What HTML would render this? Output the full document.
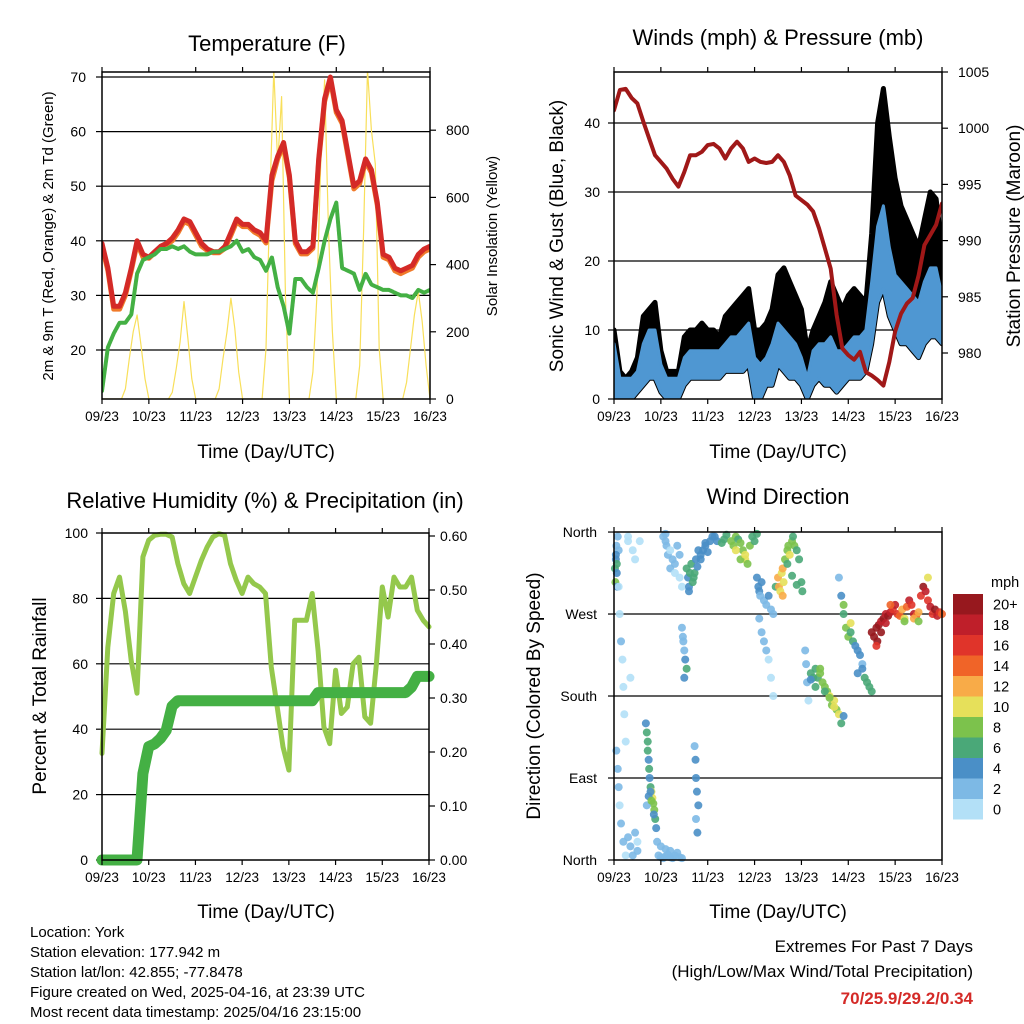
<!DOCTYPE html>
<html><head><meta charset="utf-8"><style>
body{margin:0;background:#fff}
svg{display:block;font-family:"Liberation Sans",sans-serif}
</style></head><body>
<svg id="s" width="1024" height="1024" viewBox="0 0 1024 1024" xmlns="http://www.w3.org/2000/svg">
<defs>
<clipPath id="c1"><rect x="102" y="72" width="328" height="327"/></clipPath>
<clipPath id="c2"><rect x="614" y="72" width="328" height="327"/></clipPath>
<clipPath id="c3"><rect x="96" y="527" width="339" height="339"/></clipPath>
<clipPath id="c4"><rect x="608" y="526" width="340" height="340"/></clipPath>
</defs>
<g font-size="22" text-anchor="middle" fill="#000">
<text x="267" y="51">Temperature (F)</text>
<text x="778" y="45">Winds (mph) &amp; Pressure (mb)</text>
<text x="265" y="508">Relative Humidity (%) &amp; Precipitation (in)</text>
<text x="778" y="504">Wind Direction</text>
</g>
<g font-size="19" text-anchor="middle">
<text x="266" y="458">Time (Day/UTC)</text>
<text x="778" y="458">Time (Day/UTC)</text>
<text x="266" y="918">Time (Day/UTC)</text>
<text x="778" y="918">Time (Day/UTC)</text>
<text transform="translate(563,236) rotate(-90)">Sonic Wind &amp; Gust (Blue, Black)</text>
<text transform="translate(1020,236) rotate(-90)">Station Pressure (Maroon)</text>
<text transform="translate(46,696) rotate(-90)">Percent &amp; Total Rainfall</text>
<text transform="translate(540,696) rotate(-90)">Direction (Colored By Speed)</text>
</g>
<g font-size="15" text-anchor="middle">
<text transform="translate(53,236) rotate(-90)">2m &amp; 9m T (Red, Orange) &amp; 2m Td (Green)</text>
<text transform="translate(497,236) rotate(-90)">Solar Insolation (Yellow)</text>
</g>
<g font-size="15">
<text x="30" y="937">Location: York</text>
<text x="30" y="957">Station elevation: 177.942 m</text>
<text x="30" y="977">Station lat/lon: 42.855; -77.8478</text>
<text x="30" y="997">Figure created on Wed, 2025-04-16, at 23:39 UTC</text>
<text x="30" y="1017">Most recent data timestamp: 2025/04/16 23:15:00</text>
</g>
<g font-size="17" text-anchor="end">
<text x="973" y="952">Extremes For Past 7 Days</text>
<text x="973" y="977">(High/Low/Max Wind/Total Precipitation)</text>
<text x="973" y="1004" font-weight="bold" fill="#d42a27">70/25.9/29.2/0.34</text>
</g>
</svg>
<script>
// ---- data (3-hour samples, t = i*0.125 day from 09/23) ----
var dayLabels=["09/23","10/23","11/23","12/23","13/23","14/23","15/23","16/23"];
var temp2m=[39.5,35,28,28,30.5,35,40,37.5,37,38,39,39.5,40.5,42,44,43.5,41.5,39.5,38.5,38,38,39,41.5,44,43,43,42,41.5,40,52,55.5,58,52,40,38,38,39,55,66,70,64,62,56,50,51,55,53,47,37.5,37,35,34.5,35,35.5,37.5,38.5,39];
var temp9m=[39,34.5,27.5,27.5,30,34.5,39.5,37,36.8,37.8,38.8,39.2,40,41.5,43.5,43,41,39,38.2,37.8,37.8,38.6,41,43.5,42.6,42.6,41.6,41,39.6,51,55,57.5,51.5,39.5,37.6,37.6,38.6,54.5,65.5,69.5,63.5,61.5,55.5,49.5,50.5,54.5,52.5,46.5,37,36.5,34.5,34,34.5,35,37,38,38.5];
var dewpt=[12.5,20.5,23,25,25,26.5,34,36.5,37,37.5,38.5,38.5,39,38.5,39,38,37.5,37.5,37.5,38,38,38.5,39,40,38,38.5,37,36.5,34.5,37,31.5,28,23,33,33,31.5,30.5,35,40,44,47,35,34.5,34,31,34,32,31.5,31,31,30.5,30,30,29.5,31,30.5,31];
// solar: 2-hour samples
var solar=[0,0,0,0,0,0,30,120,200,250,160,60,
0,0,0,0,0,0,20,90,170,290,180,60,
0,0,0,0,0,0,30,120,200,300,210,80,
0,0,0,0,0,0,150,600,980,700,900,300,
0,0,0,0,0,0,80,300,700,950,500,200,
0,0,0,0,0,0,100,500,980,800,700,150,
0,0,0,0,0,0,50,150,250,320,230,100,0];
var pressure=[1001.6,1003.4,1003.5,1002.7,1002.2,1000.6,999.1,997.6,997,996.4,995.5,994.8,996.1,997.6,997.6,997.9,998.5,998.6,998.2,997.3,998.2,998.8,998.2,997,997.3,997,996.9,997,997.6,997,995.8,994,993.6,993.2,992.6,991.1,989.3,987.5,983.4,980.4,979.8,979.4,980.1,978.3,978,977.6,977.1,979.2,981.9,983.5,984.4,984.9,986.9,989.6,990.5,991.4,993.3];
var windLo=[0,0,0,0,1,2,3,3,1,0,0,0,2,3,3,3,3,3,3,4,4,4,4,5,0,0,2,2,5,4,3,3,2,0,2,3,2,2,1,2,3,3,3,4,8,14,16,12,10,8,8,7,6,8,9,9,8];
var windHi=[8,3,3,3,4,8,10,10,5,3,3,3,6,7,7,7,7,7,7,8,9,9,10,11,6,5,6,8,11,10,9,8,6,3,7,8,8,9,7,7,8,9,9,10,17,25,28,22,18,17,16,15,14,17,19,19,15];
var gustHi=[10,4,3,4,6,12,13,14,7,4,4,4,9,10,10,11,10,10,9,12,13,14,15,16,10,10,11,13,18,19,17,15,13,7,10,12,14,17,15,13,15,16,15,14,24,40,45,38,32,28,26,24,22,26,30,29,22];
var rh=[32.6,65,81.5,86.5,76,61,51,92.7,97.8,99.3,99.6,99.6,98.8,90.6,84.5,81.5,86.5,91.6,95.7,98.8,99.8,99.3,90.6,85.5,81.5,86.5,84.5,83.5,81.5,59,46.8,34.6,27.5,73.3,73.3,73.3,81.5,64,40.7,35.6,58,44.8,46.8,60,62,43.8,41.8,60,83.5,74.3,86.5,83.5,83.5,86.5,76.4,73.3,71.3];
var precip=[0,0,0,0,0,0,0,0.16,0.21,0.215,0.225,0.24,0.285,0.295,0.295,0.295,0.295,0.295,0.295,0.295,0.295,0.295,0.295,0.295,0.295,0.295,0.295,0.295,0.295,0.295,0.295,0.295,0.295,0.295,0.295,0.295,0.295,0.31,0.31,0.31,0.31,0.31,0.31,0.31,0.31,0.31,0.31,0.31,0.31,0.31,0.31,0.31,0.31,0.32,0.34,0.34,0.34];
// wind direction observations: day, degrees, speed(mph)
var dirDay=[].concat(
[0.02,0.03,0.04,0.05,0.06,0.07,0.08,0.1,0.04,0.06],
[0.1,0.12,0.15,0.18,0.2,0.22,0.25,0.05,0.08,0.1,0.12,0.15,0.2,0.25,0.3,0.35],
[0.3,0.35,0.4,0.45,0.5,0.5,0.55,0.4,0.45,0.3],
[0.68,0.7,0.72,0.72,0.74,0.75,0.76,0.78,0.8,0.82,0.84,0.86,0.88,0.9,0.92,0.7,0.74,0.78,0.8,0.85],
[0.95,1.0,1.05,1.1,1.15,1.2,1.25,1.3,1.35,1.4,1.45,1.0,1.1,1.2],
[1.05,1.1,1.12,1.15,1.2,1.25,1.3,1.35,1.4,1.45,1.1,1.2,1.3,1.4],
[1.45,1.47,1.5,1.52,1.55,1.5,1.48],
[1.72,1.74,1.75,1.77,1.8,1.75,1.78],
[1.55,1.58,1.6,1.62,1.65,1.7,1.75,1.8,1.85,1.9,1.95,2.0,2.05,2.1,1.6,1.68,1.72,1.78,1.85,1.95],
[2.15,2.2,2.3,2.35,2.4,2.5,2.55,2.6,2.65,2.7,2.75,2.8,2.85,2.9,2.95,3.0,3.05,2.6,2.7,2.8],
[3.05,3.08,3.1,3.12,3.15,3.2,3.25,3.3,3.35,3.4,3.45,3.1,3.15,3.2,3.25,3.3,3.35,3.4],
[3.5,3.52,3.55,3.58,3.6,3.62,3.65,3.7,3.72,3.75,3.8,3.82,3.85,3.9,3.95,4.0,4.02,3.6,3.7,3.8,3.9],
[4.08,4.1,4.12,4.15,4.2,4.25,4.3,4.35,4.4,4.45,4.5,4.55,4.6,4.65,4.7,4.75,4.8,4.85,4.9,4.3,4.5,4.6,4.7,4.2,4.4],
[4.8,4.85,4.9,4.95,5.0,5.05,5.1,5.15,5.2,5.25,5.3,5.35,5.4,5.45,5.5,4.9,5.05,5.2,5.3],
[5.5,5.55,5.6,5.62,5.65,5.7,5.75,5.8,5.85,5.9,5.95,6.0,6.05,6.1,6.15,6.2,6.25,6.3,6.35,6.4,6.45,6.5,6.55,6.6,6.65,6.7,6.75,6.8,6.85,6.9,6.95,7.0,5.6,5.7,5.8,5.9,6.2,6.4,6.5,6.7]);
var dirDeg=[].concat(
[320,305,330,345,315,300,355,340,335,325],
[300,270,240,220,190,160,130,120,100,80,60,40,20,5,350,200],
[25,15,5,30,10,20,350,340,330,355],
[150,140,130,120,110,100,90,80,75,68,62,55,45,35,20,60,70,75,65,50],
[5,3,2,4,6,3,2,5,8,3,2,15,12,10],
[355,350,345,335,340,330,325,345,310,300,358,320,315,335],
[255,245,230,220,210,200,240],
[125,110,90,75,60,45,30],
[320,310,300,315,325,310,330,340,335,340,345,338,350,355,295,305,315,322,330,348],
[355,350,348,352,357,350,345,355,352,348,340,330,325,345,355,350,358,340,330,335],
[310,300,295,290,305,285,280,290,275,270,300,265,250,240,230,220,200,180],
[310,300,295,315,320,305,330,340,345,335,350,355,345,340,330,305,295,290,325,312,302],
[230,215,195,175,205,200,210,200,205,195,190,185,180,170,175,165,160,150,158,190,185,178,168,198,210],
[310,290,270,255,245,250,240,235,230,225,215,200,195,190,185,280,260,205,210],
[250,245,255,240,258,262,265,270,268,272,275,280,270,268,275,265,278,285,280,270,268,272,290,300,295,285,278,270,275,268,272,270,235,250,260,280,262,265,262,310]);
var dirSpd=[].concat(
[6,8,4,3,5,4,2,2,4,6],
[1,1,2,1,1,1,1,3,2,2,1,2,2,1,1,1],
[2,2,3,3,2,1,1,1,1,1],
[5,6,6,6,5,6,5,7,10,10,9,8,6,4,3,3,4,4,8,5],
[2,2,2,2,3,2,2,2,2,3,3,2,2,2],
[2,2,2,2,1,2,2,2,1,1,2,2,1,2],
[2,2,3,4,6,4,3],
[3,4,4,4,4,3,4],
[6,5,4,6,6,6,5,5,4,4,5,4,4,5,4,6,6,5,5,4],
[4,5,6,7,7,8,8,8,7,8,9,10,9,8,7,7,6,10,9,10],
[4,4,4,3,4,3,3,4,2,2,6,3,3,2,2,1,1,1],
[12,12,10,11,12,10,9,9,8,10,8,7,9,7,6,6,6,12,6,7,6],
[2,3,2,1,6,6,7,6,8,8,8,9,10,9,10,8,10,6,4,6,7,9,11,5,9],
[3,4,6,8,8,6,6,5,4,4,3,6,6,6,6,8,10,4,5],
[20,20,20,20,20,18,20,18,20,18,16,18,16,14,12,10,14,18,16,18,14,12,16,20,18,16,18,16,20,18,16,14,16,20,18,14,8,12,8,10]);
var colorLabels=["0","2","4","6","8","10","12","14","16","18","20+"];
var colorBins=["#b3e0f7","#7db9e5","#4a8fc7","#4aa878","#7cc24c","#e6e05a","#f8ab48","#f06428","#e0342a","#bf1f2a","#97181e"];
var tempTicks=[20,30,40,50,60,70];
var solarTicks=[0,200,400,600,800];
var windTicks=[0,10,20,30,40];
var pressTicks=[980,985,990,995,1000,1005];
var rhTicks=[0,20,40,60,80,100];
var precipTicks=[0,0.1,0.2,0.3,0.4,0.5,0.6];
var dirTicks=[0,90,180,270,360];
var dirNames=["North","East","South","West","North"];

var NS="http://www.w3.org/2000/svg",svg=document.getElementById("s");
function mk(tag,attrs,parent){var e=document.createElementNS(NS,tag);for(var k in attrs)e.setAttribute(k,attrs[k]);(parent||svg).appendChild(e);return e;}
function tx(x0,x1){return function(d){return x0+(x1-x0)*d/7;};}
var P1={x0:102,x1:430,y0:72,y1:399},P2={x0:614,x1:942,y0:72,y1:399},P3={x0:102,x1:429,y0:533,y1:860},P4={x0:614,x1:942,y0:532,y1:860};
var x1f=tx(P1.x0,P1.x1),x2f=tx(P2.x0,P2.x1),x3f=tx(P3.x0,P3.x1),x4f=tx(P4.x0,P4.x1);
function yT(v){return 350-(v-20)*5.46;}
function yS(v){return 399-v*0.336;}
function yW(v){return 399-v*6.9;}
function yP(v){return 353-(v-980)*11.24;}
function yR(v){return 860-v*3.27;}
function yPr(v){return 860-v*540;}
function yD(v){return 860-v*0.911;}

function frame(P,name,xf){
  var g=mk("g",{});
  
  
  var r=mk("rect",{x:P.x0,y:P.y0,width:P.x1-P.x0,height:P.y1-P.y0,fill:"none",stroke:"#000","stroke-width":1.5},g);
  
  
  for(var i=0;i<dayLabels.length;i++){
    var x=xf(i);
    mk("line",{x1:x,x2:x,y1:P.y1,y2:P.y1+5,stroke:"#000","stroke-width":1.2},g);
    mk("line",{x1:x,x2:x,y1:P.y0,y2:P.y0-5,stroke:"#000","stroke-width":1.2},g);
    var t=mk("text",{x:x,y:P.y1+22,"font-size":13.5,"text-anchor":"middle"},g);
    t.textContent=dayLabels[i];
    
    
  }
}
function hgrid(P,ys,labels,side,name,lx,fs){
  for(var i=0;i<ys.length;i++){
    var y=ys[i];
    if(side==="L"){
      if(y>P.y0+2&&y<P.y1-2)mk("line",{x1:P.x0,x2:P.x1,y1:y,y2:y,stroke:"#000","stroke-width":1.2});
      mk("line",{x1:P.x0-6,x2:P.x0,y1:y,y2:y,stroke:"#000","stroke-width":1.2});
    }else mk("line",{x1:P.x1,x2:P.x1+6,y1:y,y2:y,stroke:"#000","stroke-width":1.2});
    var t=mk("text",{x:lx,y:y+5,"font-size":fs||14,"text-anchor":side==="L"?"end":"start"});
    t.textContent=labels[i];
    
    
  }
}
function polyline(xs,ys,attrs,clip,name){
  var pts=[];for(var i=0;i<xs.length;i++)pts.push(xs[i].toFixed(1)+","+ys[i].toFixed(1));
  attrs.points=pts.join(" ");attrs.fill="none";attrs["clip-path"]="url(#"+clip+")";
  attrs["stroke-linejoin"]="round";attrs["stroke-linecap"]="round";
  var p=mk("polyline",attrs);
  
  
  return p;
}
function series(arr,step,xf,yf){var xs=[],ys=[];for(var i=0;i<arr.length;i++){xs.push(xf(i*step));ys.push(yf(arr[i]));}return [xs,ys];}
function band(lo,hi,step,xf,yf){
  var pts=[];
  for(var i=0;i<hi.length;i++)pts.push(xf(i*step).toFixed(1)+","+yf(hi[i]).toFixed(1));
  for(var i=lo.length-1;i>=0;i--)pts.push(xf(i*step).toFixed(1)+","+yf(lo[i]).toFixed(1));
  return pts.join(" ");
}

// ---------- Panel 1 ----------
hgrid(P1,tempTicks.map(yT),tempTicks,"L","temp-y",86);
hgrid(P1,solarTicks.map(yS),solarTicks,"R","solar-y",446);
var s=series(solar,1/12,x1f,yS);polyline(s[0],s[1],{stroke:"#f8df5a","stroke-width":1.2},"c1","solar-line");
s=series(temp9m,0.125,x1f,yT);polyline(s[0],s[1],{stroke:"#f07a2a","stroke-width":5},"c1","temp-9m-line");
s=series(temp2m,0.125,x1f,yT);polyline(s[0],s[1],{stroke:"#d42a27","stroke-width":5},"c1","temp-2m-line");
s=series(dewpt,0.125,x1f,yT);polyline(s[0],s[1],{stroke:"#44b044","stroke-width":4,"stroke-dasharray":"3 1"},"c1","dewpoint-line");
frame(P1,"temp",x1f);

// ---------- Panel 2 ----------
hgrid(P2,windTicks.map(yW),windTicks,"L","wind-y",600);
hgrid(P2,pressTicks.map(yP),pressTicks,"R","pressure-y",958);
var gb=mk("polygon",{points:band(windLo,gustHi,0.125,x2f,yW),fill:"#000",stroke:"#000","stroke-width":5,"stroke-linejoin":"round","clip-path":"url(#c2)"});


var wb=mk("polygon",{points:band(windLo,windHi,0.125,x2f,yW),fill:"#4f97d2",stroke:"#4f97d2","stroke-width":3,"stroke-linejoin":"round","clip-path":"url(#c2)"});


s=series(pressure,0.125,x2f,yP);polyline(s[0],s[1],{stroke:"#a01818","stroke-width":4},"c2","pressure-line");
frame(P2,"wind",x2f);

// ---------- Panel 3 ----------
hgrid(P3,rhTicks.map(yR),rhTicks,"L","rh-y",88);
hgrid(P3,precipTicks.map(yPr),precipTicks.map(function(v){return v.toFixed(2);}),"R","precip-y",440);
s=series(rh,0.125,x3f,yR);polyline(s[0],s[1],{stroke:"#94c84c","stroke-width":5},"c3","rh-line");
s=series(precip,0.125,x3f,yPr);polyline(s[0],s[1],{stroke:"#44b044","stroke-width":11},"c3","precip-line");
frame(P3,"rh",x3f);

// ---------- Panel 4 ----------
hgrid(P4,dirTicks.map(yD),dirNames,"L","dir-y",597);
for(var i=0;i<dirDay.length;i++){
  var bi=Math.min(10,Math.floor(dirSpd[i]/2));
  var c=mk("circle",{cx:x4f(dirDay[i]),cy:yD(dirDeg[i]),r:4,fill:colorBins[bi],"fill-opacity":0.9,"clip-path":"url(#c4)"});
  
  
}
frame(P4,"dir",x4f);
// colorbar
var cbTop=594,cbH=20.5;
for(var i=0;i<colorBins.length;i++){
  var y=cbTop+(10-i)*cbH;
  var r=mk("rect",{x:953,y:y,width:30,height:cbH,fill:colorBins[i]});
  
  
  var t=mk("text",{x:993,y:y+cbH/2+5,"font-size":14.5});
  t.textContent=colorLabels[i];
  
  
}
var u=mk("text",{x:991,y:587,"font-size":14.5});
u.textContent="mph";


</script>
</body></html>
